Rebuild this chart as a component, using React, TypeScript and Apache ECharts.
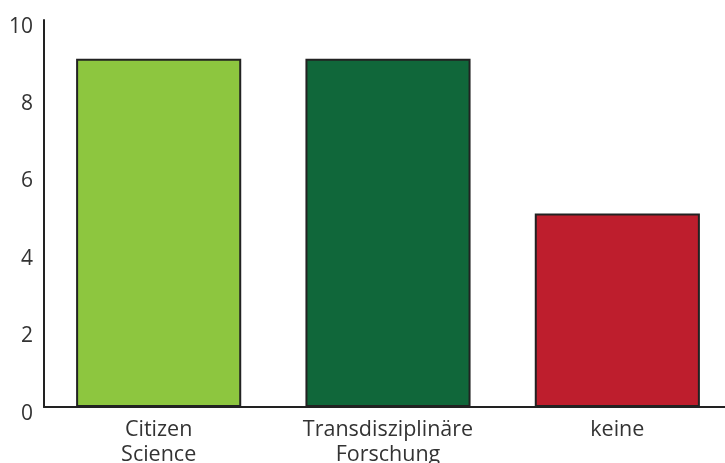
import React, { useEffect, useRef } from "react";
import * as echarts from "echarts";

const categories = ["Citizen\nScience", "Transdisziplinäre\nForschung", "keine"];
const values = [9, 9, 5];
const barColors = ["#8dc63f", "#10673a", "#be1e2d"];

export default function App() {
  const ref = useRef<HTMLDivElement>(null);
  useEffect(() => {
    const chart = echarts.init(ref.current!, null, { renderer: "svg" });
    chart.setOption({
      animation: false,
      grid: {
        left: 44,
        top: 20,
        right: 0,
        bottom: 56,
        containLabel: false,
        outerBoundsMode: "none",
      },
      xAxis: {
        type: "category",
        data: categories,
        axisLine: { lineStyle: { color: "#222", width: 2 } },
        axisTick: { show: false },
        axisLabel: {
          color: "#333",
          fontFamily: "Open Sans",
          fontSize: 21.5,
          lineHeight: 25,
          margin: 8,
          interval: 0,
        },
      },
      yAxis: {
        type: "value",
        min: 0,
        max: 10,
        interval: 2,
        splitLine: { show: false },
        axisLine: { show: true, lineStyle: { color: "#222", width: 2 } },
        axisTick: { show: false },
        axisLabel: {
          color: "#333",
          fontFamily: "Open Sans",
          fontSize: 21,
          margin: 11,
          verticalAlign: "top",
          lineHeight: 9,
        },
      },
      series: [
        {
          type: "bar",
          barWidth: "72%",
          data: values.map((v, i) => ({
            value: v,
            itemStyle: { color: barColors[i], borderColor: "#222", borderWidth: 2 },
          })),
        },
      ],
    });
    return () => chart.dispose();
  }, []);
  return (
    <div
      style={{
        position: "fixed",
        left: 0,
        top: 0,
        width: 725,
        height: 463,
        overflow: "hidden",
      }}
    >
      <div ref={ref} style={{ width: 732, height: 463 }} />
    </div>
  );
}
